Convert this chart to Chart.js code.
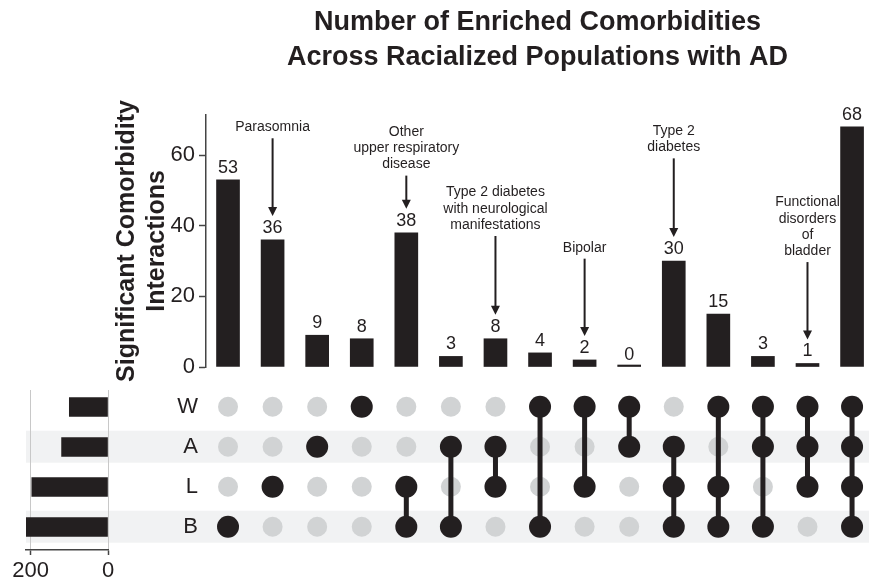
<!DOCTYPE html>
<html>
<head>
<meta charset="utf-8">
<script src="https://cdn.jsdelivr.net/npm/chart.js@4.4.0/dist/chart.umd.min.js"></script>
<style>
  body { margin: 0; background: #fff; }
  #wrap { position: relative; width: 869px; height: 579px; }
  #wrap canvas { position: absolute; left: 0; top: 0; }
</style>
</head>
<body>
<div id="wrap">
  <canvas id="matrixChart" width="869" height="579"></canvas>
  <canvas id="setSizeChart" width="869" height="579"></canvas>
  <canvas id="intersectionChart" width="869" height="579"></canvas>
</div>
<script>
// set rows (bottom-left bars) and intersection columns (top bars)
const rowLabels = ["W", "A", "L", "B"];
const setSizes = [100, 120, 197, 214];
const intersectionCounts = [53, 36, 9, 8, 38, 3, 8, 4, 2, 0, 30, 15, 3, 1, 68];
const intersectionMembers = [
  ["B"], ["L"], ["A"], ["W"], ["L", "B"], ["A", "B"], ["A", "L"], ["W", "B"],
  ["W", "L"], ["W", "A"], ["A", "L", "B"], ["W", "L", "B"], ["W", "A", "B"],
  ["W", "A", "L"], ["W", "A", "L", "B"],
];
// callouts: column, text lines, height of first text line (y units)
const calloutColumns = [1, 4, 6, 8, 10, 13];
const calloutTexts = [
  ["Parasomnia"],
  ["Other", "upper respiratory", "disease"],
  ["Type 2 diabetes", "with neurological", "manifestations"],
  ["Bipolar"],
  ["Type 2", "diabetes"],
  ["Functional", "disorders", "of", "bladder"],
];
const calloutHeights = [67.9, 66.5, 49.4, 33.8, 66.8, 46.6];

const ink = "#231f20";
const dotGray = "#d1d3d4";
const bandGray = "#f1f2f3";
const fontFamily = "'Liberation Sans', Arial, Helvetica, sans-serif";
Chart.defaults.font.family = fontFamily;
Chart.defaults.color = ink;
Chart.defaults.animation = false;

// shared column scale so bars and dots line up
const colMin = -0.494;
const colMax = 14.38;

const calloutPlugin = {
  id: "callouts",
  afterDatasetsDraw(chart) {
    const ctx = chart.ctx;
    const xs = chart.scales.x;
    const ys = chart.scales.y;
    ctx.save();
    ctx.fillStyle = ink;
    ctx.strokeStyle = ink;
    ctx.textAlign = "center";
    ctx.textBaseline = "middle";
    ctx.font = "18px " + fontFamily;
    intersectionCounts.forEach((v, i) => {
      ctx.fillText(String(v), xs.getPixelForValue(i), ys.getPixelForValue(v) - 12);
    });

    ctx.font = "14px " + fontFamily;
    ctx.lineWidth = 2;
    calloutColumns.forEach((col, k) => {
      const x = xs.getPixelForValue(col);
      const y = ys.getPixelForValue(calloutHeights[k]);
      const lines = calloutTexts[k];
      lines.forEach((line, j) => ctx.fillText(line, x, y + j * 16.2));
      const yStart = y + (lines.length - 1) * 16.2 + 11;
      const yTip = ys.getPixelForValue(intersectionCounts[col]) - 24;
      ctx.beginPath();
      ctx.moveTo(x, yStart);
      ctx.lineTo(x, yTip - 7);
      ctx.stroke();
      ctx.beginPath();
      ctx.moveTo(x - 4.5, yTip - 9);
      ctx.lineTo(x + 4.5, yTip - 9);
      ctx.lineTo(x, yTip);
      ctx.closePath();
      ctx.fill();
    });
    ctx.restore();
  },
};

const bandPlugin = {
  id: "bands",
  beforeDraw(chart) {
    const ctx = chart.ctx;
    const ys = chart.scales.y;
    ctx.save();
    ctx.fillStyle = bandGray;
    rowLabels.forEach((r, i) => {
      if (i % 2 === 1) {
        const y0 = ys.getPixelForValue(i - 0.4);
        const y1 = ys.getPixelForValue(i + 0.4);
        ctx.fillRect(26, Math.min(y0, y1), chart.chartArea.right - 26, Math.abs(y1 - y0));
      }
    });
    ctx.restore();
  },
};

function createIntersectionChart() {
  const ctx = document.getElementById("intersectionChart").getContext("2d");
  window.intersectionChart = new Chart(ctx, {
    type: "bar",
    data: {
      datasets: [
        {
          data: intersectionCounts.map((v, i) => ({ x: i, y: v })),
          backgroundColor: ink,
          barThickness: 23,
          minBarLength: 2,
        },
      ],
    },
    options: {
      responsive: false,
      layout: { autoPadding: false, padding: { left: 0, right: 0, top: 0, bottom: 212 } },
      plugins: {
        legend: { display: false },
        tooltip: { enabled: false },
        title: {
          display: true,
          fullSize: false,
          text: ["Number of Enriched Comorbidities", "Across Racialized Populations with AD"],
          color: ink,
          font: { size: 27, weight: "bold", lineHeight: 1.28 },
          padding: { top: 5.3, bottom: 40.5 },
        },
      },
      scales: {
        x: { type: "linear", min: colMin, max: colMax, offset: false, display: false },
        y: {
          min: 0,
          max: 71.4,
          afterFit: (scale) => { scale.width = 206; },
          ticks: { stepSize: 20, includeBounds: false, font: { size: 22 }, color: ink, padding: 4 },
          grid: { drawOnChartArea: false, drawTicks: true, tickLength: 7, tickColor: "#444", tickWidth: 1.5 },
          border: { display: true, color: "#444", width: 1.5 },
          title: {
            display: true,
            text: ["Significant Comorbidity", "Interactions"],
            color: ink,
            font: { size: 25, weight: "bold", lineHeight: 1.2 },
            padding: { top: 112 },
          },
        },
      },
    },
    plugins: [calloutPlugin],
  });
}

function createMatrixChart() {
  const grayPoints = [];
  const columnSets = [];
  intersectionMembers.forEach((members, i) => {
    rowLabels.forEach((r, j) => {
      if (!members.includes(r)) grayPoints.push({ x: i, y: j });
    });
    columnSets.push({
      data: members.map((m) => ({ x: i, y: rowLabels.indexOf(m) })),
      showLine: true,
      borderColor: ink,
      borderWidth: 5,
      pointRadius: 11,
      pointBackgroundColor: ink,
      pointBorderWidth: 0,
      clip: false,
      order: 0,
    });
  });

  const ctx = document.getElementById("matrixChart").getContext("2d");
  window.matrixChart = new Chart(ctx, {
    type: "scatter",
    data: {
      datasets: [
        {
          data: grayPoints,
          pointRadius: 10,
          pointBackgroundColor: dotGray,
          pointBorderWidth: 0,
          clip: false,
          order: 1,
        },
        ...columnSets,
      ],
    },
    options: {
      responsive: false,
      layout: { autoPadding: false, padding: { left: 0, right: 0, top: 376.7, bottom: 22.3 } },
      plugins: { legend: { display: false }, tooltip: { enabled: false } },
      scales: {
        x: { type: "linear", min: colMin, max: colMax, display: false },
        y: {
          type: "linear",
          reverse: true,
          min: -0.75,
          max: 3.75,
          afterFit: (scale) => { scale.width = 206; },
          afterBuildTicks: (scale) => { scale.ticks = rowLabels.map((r, i) => ({ value: i })); },
          ticks: {
            callback: (v) => rowLabels[v],
            font: { size: 22 },
            color: ink,
            padding: 8,
          },
          grid: { display: false, drawTicks: false },
          border: { display: false },
        },
      },
    },
    plugins: [bandPlugin],
  });
}

function createSetSizeChart() {
  const ctx = document.getElementById("setSizeChart").getContext("2d");
  window.setSizeChart = new Chart(ctx, {
    type: "bar",
    data: {
      datasets: [
        {
          data: setSizes.map((v, i) => ({ x: v, y: i })),
          backgroundColor: ink,
          barThickness: 19,
        },
      ],
    },
    options: {
      responsive: false,
      indexAxis: "y",
      layout: { autoPadding: false, padding: { left: 26, right: 761, top: 390, bottom: 0 } },
      plugins: { legend: { display: false }, tooltip: { enabled: false } },
      scales: {
        x: {
          type: "linear",
          reverse: true,
          min: 0,
          max: 212,
          afterFit: (scale) => { scale.height = 29; },
          afterBuildTicks: (scale) => { scale.ticks = [{ value: 0 }, { value: 200 }]; },
          ticks: { font: { size: 22 }, color: ink, padding: 3 },
          grid: { color: "#c8c8c8", lineWidth: 1, tickLength: 5, tickColor: "#444", tickWidth: 1.5 },
          border: { display: true, color: "#444", width: 1.5 },
        },
        y: { type: "linear", reverse: true, min: -0.425, max: 3.575, offset: false, display: false },
      },
    },
  });
}

createMatrixChart();
createSetSizeChart();
createIntersectionChart();
</script>
</body>
</html>
